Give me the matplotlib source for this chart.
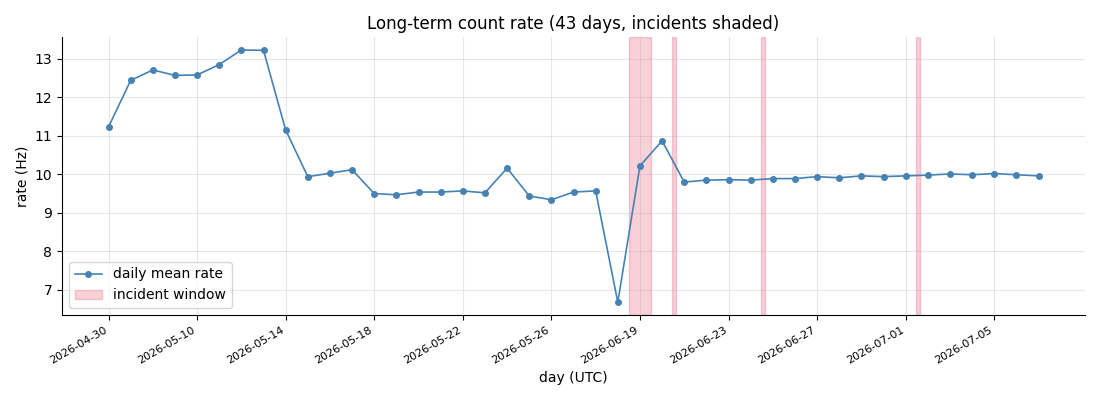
import matplotlib
matplotlib.use("Agg")
import matplotlib.pyplot as plt

# day labels (one per plotted point)
days = ["2026-04-30", "2026-05-07", "2026-05-08", "2026-05-09", "2026-05-10",
        "2026-05-11", "2026-05-12", "2026-05-13", "2026-05-14", "2026-05-15",
        "2026-05-16", "2026-05-17", "2026-05-18", "2026-05-19", "2026-05-20",
        "2026-05-21", "2026-05-22", "2026-05-23", "2026-05-24", "2026-05-25",
        "2026-05-26", "2026-05-27", "2026-05-28", "2026-05-29", "2026-06-19",
        "2026-06-20", "2026-06-21", "2026-06-22", "2026-06-23", "2026-06-24",
        "2026-06-25", "2026-06-26", "2026-06-27", "2026-06-28", "2026-06-29",
        "2026-06-30", "2026-07-01", "2026-07-02", "2026-07-03", "2026-07-04",
        "2026-07-05", "2026-07-06", "2026-07-07"]

rate = [11.23, 12.44, 12.71, 12.57, 12.58, 12.85, 13.23, 13.22, 11.15, 9.94,
        10.03, 10.12, 9.50, 9.47, 9.54, 9.54, 9.57, 9.52, 10.16, 9.44,
        9.34, 9.54, 9.57, 6.68, 10.22, 10.87, 9.80, 9.85, 9.86, 9.85,
        9.89, 9.89, 9.94, 9.91, 9.96, 9.94, 9.96, 9.98, 10.01, 9.99,
        10.02, 9.99, 9.96]

# incident windows (start, end) in day-index units
incidents = [(23.5, 24.5), (25.47, 25.64), (29.48, 29.65), (36.48, 36.65)]

x = list(range(len(days)))

fig, ax = plt.subplots(figsize=(11, 4), dpi=100)
ax.plot(x, rate, "-o", color="steelblue", markersize=4, linewidth=1.2,
        label="daily mean rate")
for i, (a, b) in enumerate(incidents):
    ax.axvspan(a, b, color="crimson", alpha=0.2,
               label="incident window" if i == 0 else None)

ax.set_xticks(x[::4])
ax.set_xticklabels(days[::4], rotation=30, ha="right", fontsize=8)
ax.set_xlabel("day (UTC)")
ax.set_ylabel("rate (Hz)")
ax.set_title("Long-term count rate (43 days, incidents shaded)")
ax.grid(alpha=0.3)
ax.spines["top"].set_visible(False)
ax.spines["right"].set_visible(False)
ax.legend(loc="lower left")

fig.tight_layout()
fig.savefig("out.png")
